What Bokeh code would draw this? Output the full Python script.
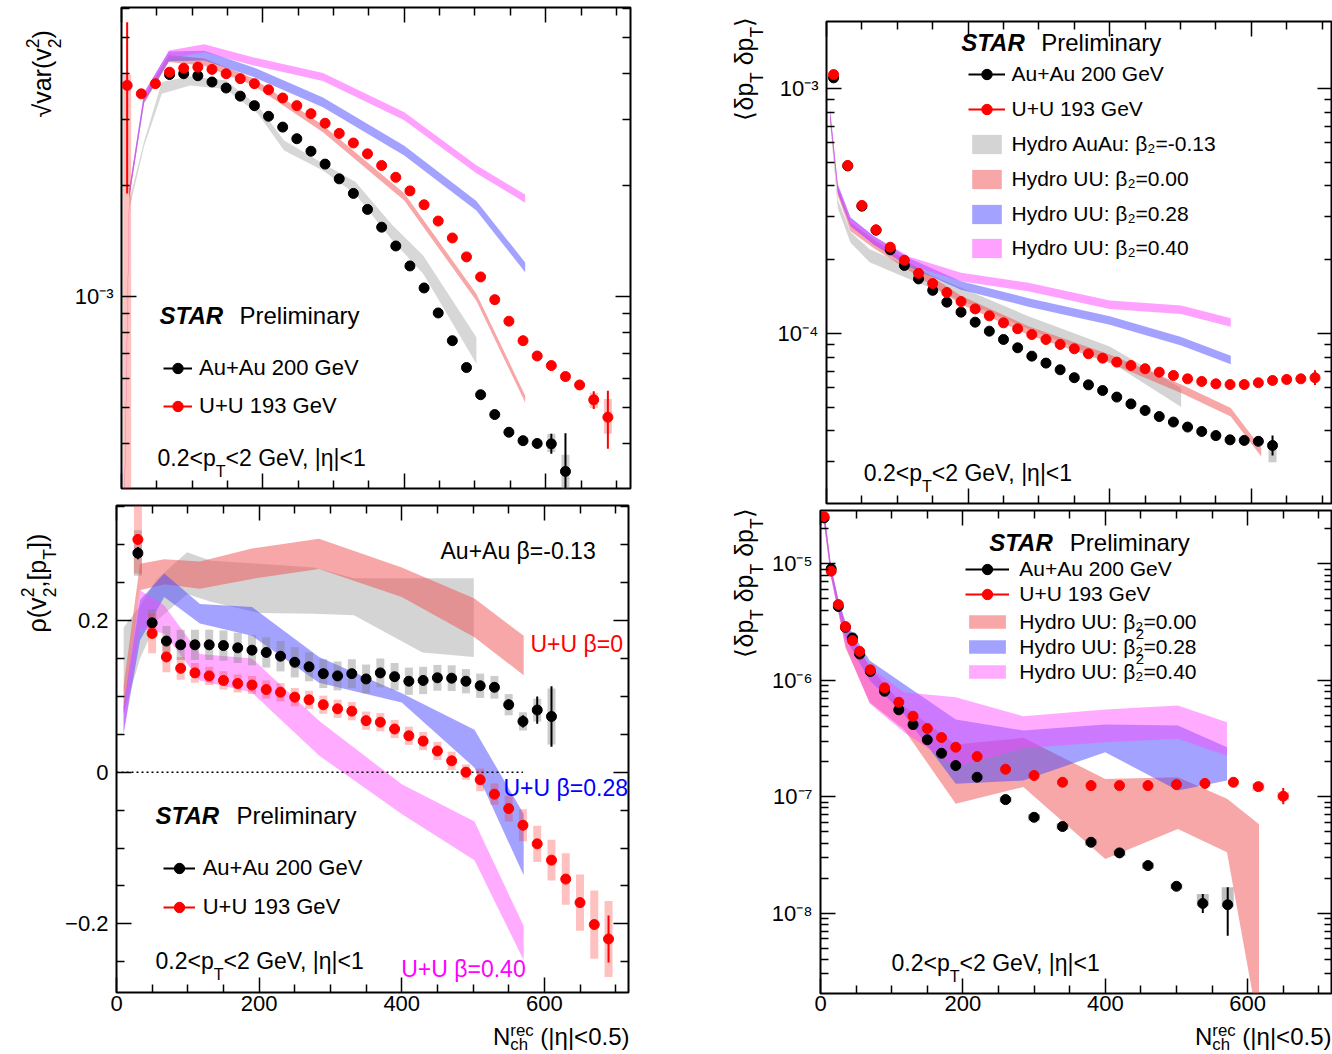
import math
from bokeh.plotting import figure
from bokeh.models import FixedTicker, Label, Legend, LegendItem, LinearAxis, LogAxis, Range1d
from bokeh.layouts import row, column
from bokeh.core.properties import value
from bokeh.embed import file_html
from bokeh.resources import INLINE

FONT = "Liberation Sans"
RED = "#ff0000"
BLACK = "#000000"
C_AUAU = "#b0b0b0"
C_B000 = "#f05050"
C_B028 = "#4848ff"
C_B040 = "#ff44ff"
BAND_ALPHA = 0.5
MID = 0.345  # baseline -> vertical middle of the text box, in font sizes

# ===================== DATA =====================
xticks_major = [0, 200, 400, 600]
xticks_minor = [50, 100, 150, 250, 300, 350, 450, 500, 550, 650, 700]
xtick_labels = ["0", "200", "400", "600"]

# ---------- top-left: sqrt(var(v2^2)) ----------
tl_red_x = [8, 28, 48, 68, 88, 108, 128, 148, 168, 188, 208, 228, 248, 268, 288, 308, 328, 348,
            368, 388, 408, 428, 448, 468, 488, 508, 528, 548, 568, 588, 608, 628, 648, 668, 688]
tl_red_y = [3.72e-3, 3.53e-3, 3.76e-3, 4.04e-3, 4.14e-3, 4.17e-3, 4.11e-3, 4.00e-3, 3.88e-3,
            3.76e-3, 3.62e-3, 3.44e-3, 3.28e-3, 3.12e-3, 2.94e-3, 2.76e-3, 2.60e-3, 2.43e-3,
            2.26e-3, 2.10e-3, 1.93e-3, 1.77e-3, 1.60e-3, 1.44e-3, 1.28e-3, 1.13e-3, 9.81e-4,
            8.58e-4, 7.60e-4, 6.91e-4, 6.51e-4, 6.08e-4, 5.77e-4, 5.26e-4, 4.72e-4]
tl_black_x = [68, 88, 108, 128, 148, 168, 188, 208, 228, 248, 268, 288, 308, 328, 348, 368, 388,
              408, 428, 448, 468, 488, 508, 528, 548, 568, 588, 608, 628]
tl_black_y = [3.98e-3, 4.00e-3, 3.95e-3, 3.80e-3, 3.66e-3, 3.48e-3, 3.28e-3, 3.07e-3, 2.87e-3,
              2.67e-3, 2.47e-3, 2.28e-3, 2.08e-3, 1.90e-3, 1.72e-3, 1.54e-3, 1.37e-3, 1.21e-3,
              1.055e-3, 9.03e-4, 7.60e-4, 6.43e-4, 5.43e-4, 4.80e-4, 4.30e-4, 4.08e-4, 4.01e-4,
              4.00e-4, 3.37e-4]
tl_red_err_x = [8, 668, 688]
tl_red_err_lo = [1.90e-3, 4.97e-4, 3.88e-4]
tl_red_err_hi = [5.51e-3, 5.55e-4, 5.57e-4]
tl_red_sys_x = [8, 668, 688]
tl_red_sys_lo = [1.0e-4, 5.0e-4, 4.26e-4]
tl_red_sys_hi = [3.98e-3, 5.5e-4, 5.29e-4]
tl_black_err_x = [608, 628]
tl_black_err_lo = [3.76e-4, 2.9e-4]
tl_black_err_hi = [4.26e-4, 4.27e-4]
tl_black_sys_x = [608, 628]
tl_black_sys_lo = [3.80e-4, 2.9e-4]
tl_black_sys_hi = [4.26e-4, 3.74e-4]
tl_uu_x = [3, 11, 32, 67, 117, 187, 285, 400, 502, 571]
tl_b040 = [2.0e-4, 1.9e-3, 3.46e-3, 4.51e-3, 4.69e-3, 4.32e-3, 3.92e-3, 3.07e-3, 2.21e-3, 1.84e-3]
tl_b028 = [2.0e-4, 1.9e-3, 3.46e-3, 4.46e-3, 4.48e-3, 4.04e-3, 3.35e-3, 2.48e-3, 1.76e-3, 1.20e-3]
tl_b000 = [2.0e-4, 1.9e-3, 3.40e-3, 4.40e-3, 4.30e-3, 3.80e-3, 2.84e-3, 1.86e-3, 9.96e-4, 5.29e-4]
tl_band_width = {"b040": 0.025, "b028": 0.03, "b000": 0.022}
tl_auau_x = [3, 12, 32, 57, 97, 147, 193, 230, 285, 331, 383, 427, 502]
tl_auau_lo = [2.0e-4, 1.75e-3, 2.55e-3, 3.53e-3, 3.72e-3, 3.64e-3, 3.12e-3, 2.48e-3, 2.19e-3,
              1.89e-3, 1.42e-3, 1.15e-3, 6.58e-4]
tl_auau_hi = [2.1e-4, 1.85e-3, 2.63e-3, 3.80e-3, 3.93e-3, 3.84e-3, 3.28e-3, 2.64e-3, 2.29e-3,
              2.04e-3, 1.56e-3, 1.29e-3, 7.76e-4]
tl_yt_major = [1e-3]
tl_yt_minor = [3e-4, 4e-4, 5e-4, 6e-4, 7e-4, 8e-4, 9e-4, 2e-3, 3e-3, 4e-3, 5e-3, 6e-3]
tl_yt_labels = ["10⁻³"]

# ---------- bottom-left: rho(v2^2,[pT]) ----------
bl_black_x = [30, 50, 70, 90, 110, 130, 150, 170, 190, 210, 230, 250, 270, 290, 310, 330, 350,
              370, 390, 410, 430, 450, 470, 490, 510, 530, 550, 570, 590, 610]
bl_black_y = [0.289, 0.197, 0.173, 0.168, 0.168, 0.168, 0.167, 0.164, 0.161, 0.158, 0.153, 0.145,
              0.139, 0.130, 0.127, 0.130, 0.123, 0.131, 0.126, 0.120, 0.121, 0.1245, 0.124, 0.120,
              0.114, 0.112, 0.089, 0.067, 0.082, 0.0735]
bl_black_sys = [0.03, 0.018, 0.02, 0.02, 0.02, 0.02, 0.02, 0.02, 0.02, 0.02, 0.02, 0.02, 0.019,
                0.019, 0.019, 0.019, 0.019, 0.019, 0.018, 0.018, 0.018, 0.017, 0.017, 0.016, 0.016,
                0.015, 0.014, 0.012, 0.015, 0.037]
bl_black_stat = [0.008, 0.006, 0.005, 0.005, 0.005, 0.005, 0.005, 0.005, 0.005, 0.005, 0.005,
                 0.005, 0.005, 0.005, 0.005, 0.005, 0.005, 0.005, 0.005, 0.005, 0.005, 0.005,
                 0.005, 0.005, 0.006, 0.006, 0.007, 0.008, 0.018, 0.04]
bl_red_x = [30, 50, 70, 90, 110, 130, 150, 170, 190, 210, 230, 250, 270, 290, 310, 330, 350, 370,
            390, 410, 430, 450, 470, 490, 510, 530, 550, 570, 590, 610, 630, 650, 670, 690]
bl_red_y = [0.307, 0.183, 0.152, 0.137, 0.131, 0.127, 0.121, 0.117, 0.115, 0.109, 0.1055, 0.099,
            0.0955, 0.089, 0.0836, 0.0805, 0.068, 0.066, 0.057, 0.048, 0.041, 0.028, 0.015, 0.0,
            -0.010, -0.029, -0.048, -0.070, -0.0945, -0.116, -0.141, -0.172, -0.201, -0.220]
bl_red_sys = [0.045, 0.026, 0.02, 0.015, 0.013, 0.012, 0.012, 0.012, 0.012, 0.012, 0.012, 0.012,
              0.012, 0.012, 0.012, 0.012, 0.012, 0.012, 0.012, 0.012, 0.012, 0.012, 0.012, 0.010,
              0.015, 0.014, 0.017, 0.021, 0.024, 0.027, 0.034, 0.037, 0.045, 0.05]
bl_red_stat = [0.006, 0.004, 0.004, 0.004, 0.004, 0.004, 0.004, 0.004, 0.004, 0.004, 0.004, 0.004,
               0.004, 0.004, 0.004, 0.004, 0.004, 0.004, 0.004, 0.004, 0.004, 0.004, 0.004, 0.004,
               0.004, 0.004, 0.004, 0.004, 0.004, 0.004, 0.004, 0.005, 0.006, 0.031]
bl_uu_x = [10, 33, 67, 117, 190, 284, 400, 502, 571]
bl_b000_lo = [0.077, 0.240, 0.248, 0.242, 0.255, 0.268, 0.231, 0.178, 0.128]
bl_b000_hi = [0.114, 0.275, 0.281, 0.278, 0.295, 0.308, 0.270, 0.229, 0.180]
bl_b028_lo = [0.051, 0.174, 0.231, 0.196, 0.180, 0.118, 0.092, 0.006, -0.136]
bl_b028_hi = [0.086, 0.227, 0.262, 0.222, 0.218, 0.152, 0.104, 0.056, -0.055]
bl_b040_lo = [0.051, 0.190, 0.183, 0.121, 0.105, 0.022, -0.055, -0.116, -0.248]
bl_b040_hi = [0.086, 0.240, 0.220, 0.156, 0.150, 0.068, -0.016, -0.065, -0.203]
bl_auau_x = [10, 33, 57, 99, 132, 200, 277, 333, 429, 501]
bl_auau_lo = [0.077, 0.15, 0.20, 0.235, 0.225, 0.21, 0.209, 0.207, 0.158, 0.152]
bl_auau_hi = [0.191, 0.22, 0.255, 0.290, 0.279, 0.275, 0.270, 0.256, 0.256, 0.256]
bl_zero_x = [0, 570]
bl_zero_y = [0, 0]
bl_yt_major = [-0.2, 0, 0.2]
bl_yt_minor = [-0.25, -0.15, -0.1, -0.05, 0.05, 0.1, 0.15, 0.25, 0.3, 0.35]
bl_yt_labels = ["−0.2", "0", "0.2"]

# ---------- top-right: <dpT dpT> ----------
tr_red_x = [10, 30, 50, 70, 90, 110, 130, 150, 170, 190, 210, 230, 250, 270, 290, 310, 330, 350,
            370, 390, 410, 430, 450, 470, 490, 510, 530, 550, 570, 590, 610, 630, 650, 670, 690]
tr_red_y = [1.14e-3, 4.85e-4, 3.33e-4, 2.65e-4, 2.25e-4, 1.99e-4, 1.76e-4, 1.60e-4, 1.47e-4,
            1.35e-4, 1.26e-4, 1.18e-4, 1.105e-4, 1.045e-4, 9.9e-5, 9.45e-5, 9.02e-5, 8.66e-5,
            8.26e-5, 7.93e-5, 7.64e-5, 7.40e-5, 7.18e-5, 6.95e-5, 6.74e-5, 6.53e-5, 6.37e-5,
            6.23e-5, 6.19e-5, 6.19e-5, 6.29e-5, 6.43e-5, 6.49e-5, 6.53e-5, 6.60e-5]
tr_black_x = [10, 30, 50, 70, 90, 110, 130, 150, 170, 190, 210, 230, 250, 270, 290, 310, 330,
              350, 370, 390, 410, 430, 450, 470, 490, 510, 530, 550, 570, 590, 610, 630]
tr_black_y = [1.105e-3, 4.83e-4, 3.31e-4, 2.64e-4, 2.195e-4, 1.895e-4, 1.67e-4, 1.50e-4, 1.342e-4,
              1.222e-4, 1.112e-4, 1.022e-4, 9.45e-5, 8.74e-5, 8.08e-5, 7.57e-5, 7.11e-5, 6.60e-5,
              6.17e-5, 5.85e-5, 5.50e-5, 5.16e-5, 4.85e-5, 4.58e-5, 4.35e-5, 4.15e-5, 3.98e-5,
              3.83e-5, 3.68e-5, 3.66e-5, 3.63e-5, 3.49e-5]
tr_red_err_x = [690]
tr_red_err_lo = [6.16e-5]
tr_red_err_hi = [7.07e-5]
tr_black_err_x = [630]
tr_black_err_lo = [3.18e-5]
tr_black_err_hi = [3.83e-5]
tr_black_sys_x = [630]
tr_black_sys_lo = [2.98e-5]
tr_black_sys_hi = [3.55e-5]
tr_uu_x = [5, 16, 34, 67, 117, 190, 285, 400, 501, 571]
tr_b040 = [8.0e-4, 3.9e-4, 2.85e-4, 2.40e-4, 1.98e-4, 1.70e-4, 1.55e-4, 1.31e-4, 1.25e-4, 1.11e-4]
tr_b028 = [7.9e-4, 3.9e-4, 2.86e-4, 2.40e-4, 1.95e-4, 1.57e-4, 1.34e-4, 1.13e-4, 9.3e-5, 7.8e-5]
tr_b000_x = [5, 16, 34, 67, 117, 190, 285, 400, 501, 571, 614]
tr_b000 = [7.7e-4, 3.8e-4, 2.72e-4, 2.32e-4, 1.88e-4, 1.37e-4, 1.03e-4, 7.9e-5, 5.95e-5, 4.77e-5,
           3.28e-5]
tr_band_width = {"b040": 0.04, "b028": 0.04, "b000": 0.04}
tr_auau_x = [5, 16, 34, 61, 89, 127, 190, 285, 400, 501]
tr_auau = [7.5e-4, 3.38e-4, 2.47e-4, 2.08e-4, 1.92e-4, 1.725e-4, 1.45e-4, 1.11e-4, 8.26e-5, 5.5e-5]
tr_auau_w = [0.03, 0.04, 0.05, 0.06, 0.06, 0.06, 0.06, 0.06, 0.07, 0.09]
tr_yt_major = [1e-4, 1e-3]
tr_yt_minor = [3e-5, 4e-5, 5e-5, 6e-5, 7e-5, 8e-5, 9e-5, 2e-4, 3e-4, 4e-4, 5e-4, 6e-4, 7e-4,
               8e-4, 9e-4]
tr_yt_labels = ["10⁻⁴", "10⁻³"]

# ---------- bottom-right: <dpT dpT dpT> ----------
br_red_x = [5, 15, 25, 35, 45, 55, 70, 90, 110, 130, 150, 170, 190, 220, 260, 300, 340, 380, 420,
            460, 500, 540, 580, 615, 650]
br_red_y = [2.55e-5, 8.64e-6, 4.47e-6, 2.89e-6, 2.19e-6, 1.77e-6, 1.23e-6, 8.60e-7, 6.47e-7,
            4.91e-7, 3.85e-7, 3.22e-7, 2.66e-7, 2.21e-7, 1.72e-7, 1.52e-7, 1.33e-7, 1.245e-7,
            1.245e-7, 1.245e-7, 1.27e-7, 1.30e-7, 1.33e-7, 1.22e-7, 1.01e-7]
br_black_x = [5, 15, 25, 35, 45, 55, 70, 90, 110, 130, 150, 170, 190, 220, 260, 300, 340, 380,
              420, 460, 500, 537, 572]
br_black_y = [2.48e-5, 9.06e-6, 4.30e-6, 2.85e-6, 2.31e-6, 1.68e-6, 1.19e-6, 8.04e-7, 5.57e-7,
              4.16e-7, 3.08e-7, 2.36e-7, 1.85e-7, 1.47e-7, 9.44e-8, 6.65e-8, 5.54e-8, 4.06e-8,
              3.29e-8, 2.56e-8, 1.70e-8, 1.21e-8, 1.18e-8]
br_red_err_x = [650]
br_red_err_lo = [8.6e-8]
br_red_err_hi = [1.19e-7]
br_red_sys_x = [615, 650]
br_red_sys_lo = [1.12e-7, 9.3e-8]
br_red_sys_hi = [1.32e-7, 1.09e-7]
br_black_err_x = [537, 572]
br_black_err_lo = [1.0e-8, 6.4e-9]
br_black_err_hi = [1.46e-8, 1.67e-8]
br_black_sys_x = [260, 300, 340, 380, 420, 460, 500, 537, 572]
br_black_sys_lo = [8.9e-8, 6.25e-8, 5.2e-8, 3.8e-8, 3.09e-8, 2.4e-8, 1.6e-8, 1.15e-8, 1.13e-8]
br_black_sys_hi = [1.0e-7, 7.05e-8, 5.9e-8, 4.3e-8, 3.49e-8, 2.72e-8, 1.8e-8, 1.46e-8, 1.67e-8]
br_uu_x = [5, 15, 25, 35, 69, 117, 190, 285, 400, 502, 571]
br_b000_x = [5, 15, 25, 35, 69, 117, 190, 285, 400, 502, 571, 616]
br_b000_lo = [2.2e-5, 7.6e-6, 3.9e-6, 1.9e-6, 6.47e-7, 3.8e-7, 8.7e-8, 1.21e-7, 2.92e-8, 5.28e-8,
              3.33e-8, 1.0e-9]
br_b000_hi = [2.9e-5, 9.2e-6, 4.9e-6, 3.0e-6, 1.30e-6, 6.0e-7, 2.8e-7, 3.2e-7, 1.42e-7, 1.47e-7,
              9.6e-8, 5.8e-8]
br_b028_lo = [2.3e-5, 7.8e-6, 4.0e-6, 2.3e-6, 1.0e-6, 5.1e-7, 1.29e-7, 1.375e-7, 2.41e-7, 1.13e-7,
              1.375e-7]
br_b028_hi = [2.9e-5, 9.4e-6, 5.0e-6, 3.2e-6, 1.48e-6, 9.3e-7, 4.6e-7, 3.7e-7, 4.16e-7, 4.09e-7,
              2.66e-7]
br_b040_lo = [2.2e-5, 7.4e-6, 3.8e-6, 2.0e-6, 6.3e-7, 3.6e-7, 1.8e-7, 2.6e-7, 2.94e-7, 3.14e-7,
              2.25e-7]
br_b040_hi = [2.9e-5, 9.3e-6, 4.9e-6, 3.1e-6, 1.30e-6, 7.9e-7, 7.15e-7, 4.9e-7, 5.6e-7, 6.07e-7,
              4.36e-7]
br_yt_major = [1e-8, 1e-7, 1e-6, 1e-5]
br_yt_minor = [3e-9, 4e-9, 5e-9, 6e-9, 7e-9, 8e-9, 9e-9,
               2e-8, 3e-8, 4e-8, 5e-8, 6e-8, 7e-8, 8e-8, 9e-8,
               2e-7, 3e-7, 4e-7, 5e-7, 6e-7, 7e-7, 8e-7, 9e-7,
               2e-6, 3e-6, 4e-6, 5e-6, 6e-6, 7e-6, 8e-6, 9e-6, 2e-5]
br_yt_labels = ["10⁻⁸", "10⁻⁷", "10⁻⁶", "10⁻⁵"]

# ===================== HELPERS =====================
AW = {' ': .278, '(': .333, ')': .333, '+': .584, ',': .278, '-': .333, '.': .278, ':': .278,
      '<': .584, '=': .584, '>': .584, '[': .278, ']': .278, '|': .26, 'β': .556, 'η': .556,
      'ρ': .577, 'δ': .556, '√': .549, '⟨': .39, '⟩': .39}
for _c in "0123456789":
    AW[_c] = .556
AW.update(dict(zip("ABCDEFGHIJKLMNOPQRSTUVWXYZ",
                   [.667, .667, .722, .722, .667, .611, .778, .722, .278, .5, .667, .556, .833,
                    .722, .778, .667, .778, .722, .667, .611, .722, .667, .944, .667, .667, .611])))
AW.update(dict(zip("abcdefghijklmnopqrstuvwxyz",
                   [.556, .556, .5, .556, .556, .278, .556, .556, .222, .222, .5, .222, .833,
                    .556, .556, .556, .556, .333, .5, .278, .556, .5, .722, .5, .5, .5])))


def tw(s):
    return sum(AW.get(ch, 0.556) for ch in s)


SCRIPT = 0.7


def no_align(p):
    try:
        p.frame_align = False
    except Exception:
        pass


def text_label(p, x, y, text, fs, color="black", angle=0.0, style="normal"):
    # (x, y) is the start of the text baseline, screen px relative to the frame
    if angle:
        cx, cy = x - MID * fs, y
    else:
        cx, cy = x, y + MID * fs
    p.add_layout(Label(x=cx, y=cy, x_units="screen", y_units="screen", text=text, angle=angle,
                       text_font=FONT, text_font_size=f"{fs:.1f}px", text_color=color,
                       text_font_style=style, text_baseline="middle", text_align="left"))


def rich(p, x, y, segs, size, color="black", rotated=False, align="left",
         sub_dy=-0.42, sup_dy=0.48):
    parts = []
    adv = 0.0
    for seg in segs:
        text, kind = seg[0], seg[1]
        fs = size * SCRIPT
        if kind == "n":
            parts.append((text, size, 0.0, adv))
            adv += tw(text) * size
        elif kind == "sub":
            dy = seg[2] if len(seg) > 2 else sub_dy
            parts.append((text, fs, dy * size, adv))
            adv += tw(text) * fs
        elif kind == "sup":
            parts.append((text, fs, sup_dy * size, adv))
            adv += tw(text) * fs
        elif kind == "subsup":
            a, b = text.split("|")
            parts.append((a, fs, sub_dy * size, adv))
            parts.append((b, fs, sup_dy * size, adv))
            adv += max(tw(a), tw(b)) * fs
    shift = -adv if align == "right" else 0.0
    for text, fs, dy, a in parts:
        a += shift
        stripped = text.lstrip(" ")
        a += tw(text[:len(text) - len(stripped)]) * fs
        if rotated:
            text_label(p, x - dy, y + a, stripped, fs, color, angle=math.pi / 2)
        else:
            text_label(p, x + a, y + dy, stripped, fs, color)


def make_fig(width, height, borders, xr, yr, ylog):
    l, r, t, b = borders
    p = figure(width=width, height=height, output_backend="svg", toolbar_location=None, tools="",
               x_range=Range1d(*xr), y_range=Range1d(*yr),
               y_axis_type="log" if ylog else "linear",
               min_border_left=l, min_border_right=r, min_border_top=t, min_border_bottom=b)
    no_align(p)
    p.grid.visible = False
    p.outline_line_color = "black"
    p.outline_line_width = 2
    p.background_fill_color = "white"
    p.border_fill_color = "white"
    p.add_layout(LinearAxis(), "above")
    p.add_layout(LogAxis() if ylog else LinearAxis(), "right")
    return p


def strip(width, height):
    s = figure(width=width, height=height, output_backend="svg", toolbar_location=None, tools="",
               x_range=Range1d(0, 1), y_range=Range1d(0, 1), min_border=0,
               x_axis_location=None, y_axis_location=None)
    no_align(s)
    s.grid.visible = False
    s.outline_line_color = None
    s.background_fill_color = "white"
    s.border_fill_color = "white"
    return s


def style_axis(ax, major, minor, labels=None, size=22, standoff=8):
    ax.ticker = FixedTicker(ticks=major, minor_ticks=minor)
    ax.axis_line_color = None
    ax.major_tick_in = 15
    ax.major_tick_out = 0
    ax.minor_tick_in = 8
    ax.minor_tick_out = 0
    ax.major_tick_line_color = "black"
    ax.minor_tick_line_color = "black"
    ax.major_tick_line_width = 1.5
    ax.minor_tick_line_width = 1.5
    if labels is None:
        ax.major_label_overrides = {t: "" for t in major}
        ax.major_label_text_font_size = "0px"
        ax.major_label_standoff = 0
    else:
        ax.major_label_overrides = {t: lab for t, lab in zip(major, labels)}
        ax.major_label_text_font = FONT
        ax.major_label_text_font_size = f"{size}px"
        ax.major_label_text_color = "black"
        ax.major_label_standoff = standoff


def style_all(p, ymaj, ymin, ylab, xlab, xstand=3):
    style_axis(p.below[0], xticks_major, xticks_minor, xlab, standoff=xstand)
    style_axis(p.above[0], xticks_major, xticks_minor, None)
    style_axis(p.left[0], ymaj, ymin, ylab, standoff=8)
    style_axis(p.right[0], ymaj, ymin, None)


def points(p, x, y, color):
    return p.scatter(x=x, y=y, size=10, marker="circle", fill_color=color, line_color=color)


def errbars(p, x, lo, hi, color):
    return p.segment(x0=x, x1=x, y0=lo, y1=hi, line_color=color, line_width=2)


def sysboxes(p, x, lo, hi, hw, color, alpha):
    return p.quad(left=[v - hw for v in x], right=[v + hw for v in x], bottom=lo, top=hi,
                  fill_color=color, fill_alpha=alpha, line_color=None)


def band(p, x, lo, hi, color, alpha=BAND_ALPHA):
    return p.varea(x=x, y1=lo, y2=hi, fill_color=color, fill_alpha=alpha)


def rel_band(vals, w):
    return [v * (1 - w) for v in vals], [v * (1 + w) for v in vals]


def legend1(p, label, rends, vx, vy, gw, gh, standoff, fs, lh=None):
    lg = Legend(items=[LegendItem(label=value(label), renderers=rends)],
                location=(vx, vy), orientation="vertical",
                glyph_width=int(round(gw)), glyph_height=int(round(gh)),
                label_standoff=int(round(standoff)),
                label_height=int(round(lh if lh else gh)), label_width=10,
                label_text_font=FONT, label_text_font_size=f"{fs}px", label_text_color="black",
                padding=0, margin=0, spacing=0,
                border_line_color=None, background_fill_color=None)
    p.add_layout(lg)


def star(p, x1, x2, y):
    text_label(p, x1, y, "STAR", 24, style="bold italic")
    text_label(p, x2, y, "Preliminary", 24)


PT_SEGS = [("0.2<p", "n"), ("T", "sub", -0.5), ("<2 GeV, |η|<1", "n")]
NCH_SEGS = [("N", "n"), ("ch|rec", "subsup"), (" (|η|<0.5)", "n")]

# ===================== TOP-LEFT =====================
tl = make_fig(594, 500, (55, 30, 7, 12), (0, 720), (3.03e-4, 6.04e-3), True)
style_all(tl, tl_yt_major, tl_yt_minor, tl_yt_labels, None)
band(tl, tl_auau_x, tl_auau_lo, tl_auau_hi, C_AUAU)
band(tl, tl_uu_x, *rel_band(tl_b000, tl_band_width["b000"]), C_B000)
band(tl, tl_uu_x, *rel_band(tl_b028, tl_band_width["b028"]), C_B028)
band(tl, tl_uu_x, *rel_band(tl_b040, tl_band_width["b040"]), C_B040)
sysboxes(tl, tl_red_sys_x, tl_red_sys_lo, tl_red_sys_hi, 5.66, "#ff3030", 0.3)
sysboxes(tl, tl_black_sys_x, tl_black_sys_lo, tl_black_sys_hi, 5.66, "#808080", 0.4)
tl_rerr = errbars(tl, tl_red_err_x, tl_red_err_lo, tl_red_err_hi, RED)
tl_berr = errbars(tl, tl_black_err_x, tl_black_err_lo, tl_black_err_hi, BLACK)
tl_bpts = points(tl, tl_black_x, tl_black_y, BLACK)
tl_rpts = points(tl, tl_red_x, tl_red_y, RED)
legend1(tl, "Au+Au 200 GeV", [tl_berr, tl_bpts], 42, 107.3, 29, 26, 7, 22)
legend1(tl, "U+U 193 GeV", [tl_rerr, tl_rpts], 42, 69, 29, 26, 7, 22)
star(tl, 38, 118, 165)
rich(tl, 36, 23, PT_SEGS, 23)

tl_t = strip(66, 500)
rich(tl_t, 50, 383, [("√var(v", "n"), ("2|2", "subsup"), (")", "n")], 25, rotated=True)

# ===================== BOTTOM-LEFT =====================
bl = make_fig(598, 520, (54, 32, 5, 28), (0, 718), (-0.2906, 0.3518), False)
style_all(bl, bl_yt_major, bl_yt_minor, bl_yt_labels, xtick_labels, xstand=3)
band(bl, bl_auau_x, bl_auau_lo, bl_auau_hi, C_AUAU, 0.55)
band(bl, bl_uu_x, bl_b000_lo, bl_b000_hi, C_B000)
band(bl, bl_uu_x, bl_b028_lo, bl_b028_hi, C_B028)
band(bl, bl_uu_x, bl_b040_lo, bl_b040_hi, C_B040, 0.45)
bl.line(x=bl_zero_x, y=bl_zero_y, line_color="black", line_width=1.5, line_dash="2 3")
sysboxes(bl, bl_black_x, [y - s for y, s in zip(bl_black_y, bl_black_sys)],
         [y + s for y, s in zip(bl_black_y, bl_black_sys)], 5.6, "#808080", 0.4)
sysboxes(bl, bl_red_x, [y - s for y, s in zip(bl_red_y, bl_red_sys)],
         [y + s for y, s in zip(bl_red_y, bl_red_sys)], 5.6, "#ff3030", 0.3)
bl_berr = errbars(bl, bl_black_x, [y - s for y, s in zip(bl_black_y, bl_black_stat)],
                  [y + s for y, s in zip(bl_black_y, bl_black_stat)], BLACK)
bl_rerr = errbars(bl, bl_red_x, [y - s for y, s in zip(bl_red_y, bl_red_stat)],
                  [y + s for y, s in zip(bl_red_y, bl_red_stat)], RED)
bl_bpts = points(bl, bl_black_x, bl_black_y, BLACK)
bl_rpts = points(bl, bl_red_x, bl_red_y, RED)
legend1(bl, "Au+Au 200 GeV", [bl_berr, bl_bpts], 46.7, 111, 32, 26, 8, 22)
legend1(bl, "U+U 193 GeV", [bl_rerr, bl_rpts], 46.7, 72, 32, 26, 8, 22)
star(bl, 39, 120, 168.7)
rich(bl, 39, 24, PT_SEGS, 23)
rich(bl, 324, 433.7, [("Au+Au β=-0.13", "n")], 23)
rich(bl, 414, 340.3, [("U+U β=0", "n")], 23, color="#ff0000")
rich(bl, 387, 197, [("U+U β=0.28", "n")], 23, color="#0000ff")
rich(bl, 284.7, 15.3, [("U+U β=0.40", "n")], 23, color="#ff00ff")

bl_t = strip(62, 554)
rich(bl_t, 45, 422, [("ρ(v", "n"), ("2|2", "subsup"), (",[p", "n"), ("T", "sub"), ("])", "n")],
     25, rotated=True)
bl_x = strip(598, 34)
rich(bl_x, 567, 10, NCH_SEGS, 24, align="right", sub_dy=-0.25, sup_dy=0.33)

# ===================== TOP-RIGHT =====================
tr = make_fig(564, 505, (58, 0, 21, 2), (0, 714.7), (2.023e-5, 1.877e-3), True)
style_all(tr, tr_yt_major, tr_yt_minor, tr_yt_labels, None)
tr_g = band(tr, tr_auau_x, [v * (1 - w) for v, w in zip(tr_auau, tr_auau_w)],
            [v * (1 + w) for v, w in zip(tr_auau, tr_auau_w)], C_AUAU, 0.55)
tr_s = band(tr, tr_b000_x, *rel_band(tr_b000, tr_band_width["b000"]), C_B000)
tr_bl = band(tr, tr_uu_x, *rel_band(tr_b028, tr_band_width["b028"]), C_B028)
tr_m = band(tr, tr_uu_x, *rel_band(tr_b040, tr_band_width["b040"]), C_B040)
sysboxes(tr, tr_black_sys_x, tr_black_sys_lo, tr_black_sys_hi, 5.65, "#808080", 0.4)
tr_rerr = errbars(tr, tr_red_err_x, tr_red_err_lo, tr_red_err_hi, RED)
tr_berr = errbars(tr, tr_black_err_x, tr_black_err_lo, tr_black_err_hi, BLACK)
tr_bpts = points(tr, tr_black_x, tr_black_y, BLACK)
tr_rpts = points(tr, tr_red_x, tr_red_y, RED)
legend1(tr, "Au+Au 200 GeV", [tr_berr, tr_bpts], 141.5, 416, 37, 26, 7, 21)
legend1(tr, "U+U 193 GeV", [tr_rerr, tr_rpts], 141.5, 380.7, 37, 26, 7, 21)
legend1(tr, "Hydro AuAu: β₂=-0.13", [tr_g], 141.5, 347, 37, 24, 7, 21)
legend1(tr, "Hydro UU: β₂=0.00", [tr_s], 141.5, 312.3, 37, 24, 7, 21)
legend1(tr, "Hydro UU: β₂=0.28", [tr_bl], 141.5, 277.3, 37, 24, 7, 21)
legend1(tr, "Hydro UU: β₂=0.40", [tr_m], 141.5, 243, 37, 24, 7, 21)
star(tr, 134.7, 214.7, 453)
rich(tr, 37.3, 23, PT_SEGS, 23)

tr_t = strip(108, 505)
rich(tr_t, 92, 385, [("⟨δp", "n"), ("T", "sub"), (" δp", "n"), ("T", "sub"), ("⟩", "n")], 25,
     rotated=True)

# ===================== BOTTOM-RIGHT =====================
br = make_fig(564, 515, (51, 0, 5, 27), (0, 719.2), (2.04e-9, 2.87e-5), True)
style_all(br, br_yt_major, br_yt_minor, br_yt_labels, xtick_labels, xstand=2)
br_s = band(br, br_b000_x, br_b000_lo, br_b000_hi, C_B000)
br_bl = band(br, br_uu_x, br_b028_lo, br_b028_hi, C_B028)
br_m = band(br, br_uu_x, br_b040_lo, br_b040_hi, C_B040, 0.45)
sysboxes(br, br_black_sys_x, br_black_sys_lo, br_black_sys_hi, 8.4, "#808080", 0.5)
sysboxes(br, br_red_sys_x, br_red_sys_lo, br_red_sys_hi, 8.4, "#ff3030", 0.3)
br_rerr = errbars(br, br_red_err_x, br_red_err_lo, br_red_err_hi, RED)
br_berr = errbars(br, br_black_err_x, br_black_err_lo, br_black_err_hi, BLACK)
br_bpts = points(br, br_black_x, br_black_y, BLACK)
br_rpts = points(br, br_red_x, br_red_y, RED)
legend1(br, "Au+Au 200 GeV", [br_berr, br_bpts], 145.3, 411, 44, 26, 10, 21)
legend1(br, "U+U 193 GeV", [br_rerr, br_rpts], 145.3, 385.7, 44, 26, 10, 21)
legend1(br, "Hydro UU: β₂=0.00", [br_s], 144.3, 359.5, 46, 17, 9, 21)
legend1(br, "Hydro UU: β₂=0.28", [br_bl], 144.3, 334.2, 46, 17, 9, 21)
legend1(br, "Hydro UU: β₂=0.40", [br_m], 144.3, 309.2, 46, 17, 9, 21)
for _y in (354.5, 329.5):
    text_label(br, 315.2, _y, "2", 15)
star(br, 168.7, 249.3, 443)
rich(br, 71, 23, PT_SEGS, 23)

br_t = strip(108, 549)
rich(br_t, 92, 397, [("⟨δp", "n"), ("T", "sub"), (" δp", "n"), ("T", "sub"), (" δp", "n"),
                     ("T", "sub"), ("⟩", "n")], 25, rotated=True)
br_x = strip(564, 34)
rich(br_x, 563, 10, NCH_SEGS, 24, align="right", sub_dy=-0.25, sup_dy=0.33)

left_col = column(row(tl_t, tl), row(bl_t, column(bl, bl_x)))
right_col = column(row(tr_t, tr), row(br_t, column(br, br_x)))
layout = row(left_col, right_col)
open("out.html", "w").write(file_html(layout, INLINE))
